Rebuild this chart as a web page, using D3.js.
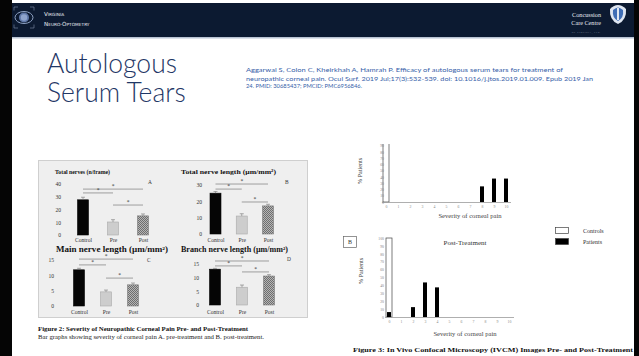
<!DOCTYPE html>
<html>
<head>
<meta charset="utf-8">
<script src="https://cdn.jsdelivr.net/npm/d3@7"></script>
<style>
  html, body { margin: 0; padding: 0; background: #fff; }
  svg { display: block; }
</style>
</head>
<body>
<script>
// ---- Data ----
const groups = ["Control", "Pre", "Post"];

const totalNerves = [27.6, 10.2, 15.0];
const totalNervesErr = [2.0, 1.8, 1.5];
const totalNerveLength = [25.0, 11.0, 17.2];
const totalNerveLengthErr = [1.0, 1.4, 1.0];
const mainNerveLength = [11.8, 4.6, 6.9];
const mainNerveLengthErr = [0.5, 0.6, 0.6];
const branchNerveLength = [13.1, 6.5, 10.6];
const branchNerveLengthErr = [0.3, 0.8, 0.5];

const panelTitles = [
  "Total nerves (n/frame)",
  "Total nerve length (\u00b5m/mm\u00b2)",
  "Main nerve length (\u00b5m/mm\u00b2)",
  "Branch nerve length (\u00b5m/mm\u00b2)"
];
const panelLetters = ["A", "B", "C", "D"];
const panelTicks = [[0, 10, 20, 30, 40], [0, 10, 20, 30], [0, 5, 10, 15], [0, 5, 10, 15]];

// significance brackets: [from group, to group, height in data units]
const sigA = [[0, 2, 36], [0, 1, 33], [1, 2, 23.5]];
const sigB = [[0, 2, 30.6], [0, 1, 27.5], [1, 2, 19.6]];
const sigC = [[0, 2, 15.3], [0, 1, 13.4], [1, 2, 9.1]];
const sigD = [[0, 2, 16.1], [0, 1, 14.3], [1, 2, 12.1]];

const severity = [0, 1, 2, 3, 4, 5, 6, 7, 8, 9, 10];
const preControls  = [100, 0, 0, 0, 0, 0, 0, 0, 0, 0, 0];
const prePatients  = [0, 0, 0, 0, 0, 0, 0, 0, 25, 37.5, 37.5];
const postControls = [100, 0, 0, 0, 0, 0, 0, 0, 0, 0, 0];
const postPatients = [6.25, 0, 12.5, 43.75, 37.5, 0, 0, 0, 0, 0, 0];
const preTicks  = [0, 10, 20, 30, 40, 50, 60, 70, 80, 90];
const postTicks = [0, 10, 20, 30, 40, 50, 60, 70, 80, 90, 100];

const legendLabels = ["Controls", "Patients"];

const citation = [
  "Aggarwal S, Colon C, Kheirkhah A, Hamrah P. Efficacy of autologous serum tears for treatment of",
  "neuropathic corneal pain. Ocul Surf. 2019 Jul;17(3):532-539. doi: 10.1016/j.jtos.2019.01.009. Epub 2019 Jan",
  "24. PMID: 30685437; PMCID: PMC6956846."
];

// ---- Canvas ----
const W = 639, H = 356;
const SERIF = "'Liberation Serif', 'Times New Roman', serif";
const SANS = "Lato, 'Open Sans', sans-serif";

const svg = d3.select("body").append("svg").attr("width", W).attr("height", H);
const defs = svg.append("defs");

// checkered fill for the post-treatment bars
const pat = defs.append("pattern").attr("id", "checker")
  .attr("patternUnits", "userSpaceOnUse").attr("width", 2).attr("height", 2);
pat.append("rect").attr("width", 2).attr("height", 2).attr("fill", "#b5b5b5");
pat.append("rect").attr("width", 1).attr("height", 1).attr("fill", "#6e6e6e");
pat.append("rect").attr("x", 1).attr("y", 1).attr("width", 1).attr("height", 1).attr("fill", "#6e6e6e");

svg.append("rect").attr("width", W).attr("height", H).attr("fill", "#fff");

// ---- Header band ----
svg.append("rect").attr("x", 0).attr("y", 3).attr("width", W).attr("height", 34).attr("fill", "#0c1a31");
svg.append("rect").attr("x", 12).attr("y", 37).attr("width", 622).attr("height", 1.5).attr("fill", "#b9c3d3");

// left logo: eye inside corner brackets
const logo = svg.append("g").attr("transform", "translate(24,17.5)");
logo.append("ellipse").attr("rx", 9).attr("ry", 6).attr("fill", "none").attr("stroke", "#8fa3c4").attr("stroke-width", 1);
logo.append("circle").attr("r", 5).attr("fill", "#5f78a8");
logo.append("circle").attr("r", 3.2).attr("fill", "#8ea4cc");
[[-1, -1], [1, -1], [-1, 1], [1, 1]].forEach(([sx, sy]) => {
  logo.append("path")
    .attr("d", `M${sx * 10},${sy * 7} L${sx * 10},${sy * 10.5} L${sx * 6},${sy * 10.5}`)
    .attr("fill", "none").attr("stroke", "#7f8fa8").attr("stroke-width", 0.6);
});

function smallCaps(x, y, parts) {
  const t = svg.append("text").attr("x", x).attr("y", y)
    .attr("font-family", "'DejaVu Sans', sans-serif").attr("fill", "#e8ecf3");
  parts.forEach(([s, big]) => t.append("tspan").attr("font-size", big ? 5.6 : 4.3).text(s));
  return t;
}
smallCaps(44, 16, [["V", true], ["IRGINIA", false]]);
smallCaps(44, 25.5, [["N", true], ["EURO-", false], ["O", true], ["PTOMETRY", false]]);

// right logo
svg.append("text").attr("x", 601).attr("y", 17).attr("text-anchor", "end")
  .attr("font-family", SERIF).attr("font-size", 6.2).attr("fill", "#e6e9ef").text("Concussion");
svg.append("text").attr("x", 601).attr("y", 25).attr("text-anchor", "end")
  .attr("font-family", SERIF).attr("font-size", 6.2).attr("fill", "#e6e9ef").text("Care Centre");
svg.append("text").attr("x", 601).attr("y", 32.5).attr("text-anchor", "end")
  .attr("font-family", SERIF).attr("font-size", 2.2).attr("fill", "#9aa4b5")
  .attr("letter-spacing", 0.6).text("OF VIRGINIA, LTD.");
const shield = svg.append("g").attr("transform", "translate(618,14)");
shield.append("path").attr("d", "M-8,-5 Q-9,6 0,10 Q9,6 8,-5 Q4,-9 0,-9 Q-4,-9 -8,-5 Z").attr("fill", "#dfe6f1");
shield.append("path").attr("d", "M-5,-4 Q-6,4 0,7 Q6,4 5,-4 Q2,-6.5 0,-6.5 Q-2,-6.5 -5,-4 Z").attr("fill", "#3f6db5");
shield.append("rect").attr("x", -1).attr("y", -6).attr("width", 2).attr("height", 12).attr("fill", "#dfe6f1");

// ---- Frame ----
svg.append("rect").attr("x", 0).attr("y", 0).attr("width", 12).attr("height", H).attr("fill", "#050505");
svg.append("rect").attr("x", 634).attr("y", 0).attr("width", 5).attr("height", H).attr("fill", "#050505");

// ---- Slide title and reference ----
[["Autologous", 73], ["Serum Tears", 102]].forEach(([s, yy]) => {
  svg.append("text").attr("x", 47).attr("y", yy)
    .attr("font-family", SANS).attr("font-weight", 300)
    .attr("font-size", 26.5).attr("fill", "#1f3766").text(s);
});

const citeWidths = [317, 347, 116];
const citeY = [72, 81, 87.5];
citation.forEach((line, i) => {
  svg.append("text").attr("x", 246).attr("y", citeY[i])
    .attr("font-family", SANS).attr("font-size", 6.1).attr("fill", "#3660a8")
    .attr("textLength", citeWidths[i]).attr("lengthAdjust", "spacingAndGlyphs")
    .text(line);
});

// ---- Figure 2: four bar panels ----
svg.append("rect").attr("x", 38.5).attr("y", 160.5).attr("width", 269).attr("height", 157)
  .attr("fill", "#efefef").attr("stroke", "#cfcfcf").attr("stroke-width", 1);

const barFills = ["#050505", "#cdcdcd", "url(#checker)"];
const barStrokes = ["#050505", "#a9a9a9", "#7a7a7a"];

const panels = [
  { values: totalNerves, errs: totalNervesErr, sig: sigA, ticks: panelTicks[0], max: 40,
    y0: 235, y1: 184, x0: 83, x1: 143, tickX: 61, titleX: 55, titleY: 174, titleW: 55, titleSize: 7,
    letterX: 148, letterY: 184, labelY: 242 },
  { values: totalNerveLength, errs: totalNerveLengthErr, sig: sigB, ticks: panelTicks[1], max: 30,
    y0: 234, y1: 185, x0: 215.5, x1: 268, tickX: 202, titleX: 181, titleY: 174, titleW: 95, titleSize: 7,
    letterX: 285, letterY: 184, labelY: 242 },
  { values: mainNerveLength, errs: mainNerveLengthErr, sig: sigC, ticks: panelTicks[2], max: 15,
    y0: 306, y1: 260, x0: 79, x1: 133, tickX: 54, titleX: 56, titleY: 252, titleW: 112, titleSize: 7.8,
    letterX: 147, letterY: 262, labelY: 314 },
  { values: branchNerveLength, errs: branchNerveLengthErr, sig: sigD, ticks: panelTicks[3], max: 15,
    y0: 305, y1: 264, x0: 215, x1: 269, tickX: 199, titleX: 181, titleY: 252, titleW: 107, titleSize: 7.8,
    letterX: 287, letterY: 261, labelY: 314 }
];

panels.forEach((p, pi) => {
  const g = svg.append("g");
  const x = d3.scalePoint().domain(groups).range([p.x0, p.x1]);
  const y = d3.scaleLinear().domain([0, p.max]).range([p.y0, p.y1]);
  const bw = 11;

  g.append("text").attr("x", p.titleX).attr("y", p.titleY)
    .attr("font-family", SERIF).attr("font-weight", "bold").attr("font-size", p.titleSize)
    .attr("fill", "#111").attr("textLength", p.titleW).attr("lengthAdjust", "spacingAndGlyphs")
    .text(panelTitles[pi]);

  const yAxis = d3.axisLeft(y).tickValues(p.ticks).tickSize(0).tickPadding(0);
  const ya = g.append("g").attr("transform", `translate(${p.tickX},0)`).call(yAxis);
  ya.select(".domain").remove();
  ya.selectAll("text").attr("font-family", SERIF).attr("font-size", 5.6).attr("fill", "#333").attr("dy", "0.32em");

  g.selectAll("rect.bar").data(p.values).join("rect").attr("class", "bar")
    .attr("x", (d, i) => x(groups[i]) - bw / 2).attr("width", bw)
    .attr("y", d => y(d)).attr("height", d => y(0) - y(d))
    .attr("fill", (d, i) => barFills[i]).attr("stroke", (d, i) => barStrokes[i]).attr("stroke-width", 0.6);

  // error bars
  p.values.forEach((v, i) => {
    const cx = x(groups[i]);
    const top = y(v + p.errs[i]);
    g.append("line").attr("x1", cx).attr("x2", cx).attr("y1", y(v)).attr("y2", top)
      .attr("stroke", "#777").attr("stroke-width", 0.6);
    g.append("line").attr("x1", cx - 2).attr("x2", cx + 2).attr("y1", top).attr("y2", top)
      .attr("stroke", "#777").attr("stroke-width", 0.6);
  });

  const xa = g.append("g").attr("transform", `translate(0,${p.labelY - 4})`)
    .call(d3.axisBottom(x).tickSize(0).tickPadding(0));
  xa.select(".domain").remove();
  xa.selectAll("text").attr("font-family", SERIF).attr("font-size", 5.6).attr("fill", "#333").attr("dy", "0.71em");

  // significance brackets
  p.sig.forEach(([a, b, h]) => {
    const xa0 = x(groups[a]), xb0 = x(groups[b]), yy = y(h);
    g.append("line").attr("x1", xa0).attr("x2", xb0).attr("y1", yy).attr("y2", yy)
      .attr("stroke", "#8a8a8a").attr("stroke-width", 0.8);
    g.append("text").attr("x", (xa0 + xb0) / 2).attr("y", yy - 0.8).attr("text-anchor", "middle")
      .attr("font-family", SERIF).attr("font-size", 5.5).attr("fill", "#333").text("*");
  });

  g.append("text").attr("x", p.letterX).attr("y", p.letterY)
    .attr("font-family", SERIF).attr("font-size", 5.4).attr("fill", "#333").text(panelLetters[pi]);
});

svg.append("text").attr("x", 38).attr("y", 331)
  .attr("font-family", SERIF).attr("font-weight", "bold").attr("font-size", 6).attr("fill", "#111")
  .attr("textLength", 210).attr("lengthAdjust", "spacingAndGlyphs")
  .text("Figure 2: Severity of Neuropathic Corneal Pain Pre- and Post-Treatment");
svg.append("text").attr("x", 38).attr("y", 338.5)
  .attr("font-family", SERIF).attr("font-size", 6).attr("fill", "#222")
  .attr("textLength", 226).attr("lengthAdjust", "spacingAndGlyphs")
  .text("Bar graphs showing severity of corneal pain A. pre-treatment and B. post-treatment.");

// ---- Figure 3: severity distributions ----
function distChart(cfg) {
  const g = svg.append("g");
  const x = d3.scalePoint().domain(severity).range([cfg.x0, cfg.x1]);
  const y = d3.scaleLinear().domain([0, 100]).range([cfg.y0, cfg.y100]);

  const clipId = "clip" + cfg.id;
  defs.append("clipPath").attr("id", clipId).append("rect")
    .attr("x", cfg.x0 - 20).attr("y", cfg.clipTop).attr("width", 160).attr("height", cfg.y0 - cfg.clipTop + 2);
  const plot = g.append("g").attr("clip-path", `url(#${clipId})`);

  plot.selectAll("rect.ctrl").data(cfg.controls).join("rect").attr("class", "ctrl")
    .attr("x", (d, i) => x(severity[i]) - 3).attr("width", 6)
    .attr("y", d => y(d)).attr("height", d => y(0) - y(d))
    .attr("fill", "#fff").attr("stroke", "#444").attr("stroke-width", 0.7)
    .attr("display", d => d > 0 ? null : "none");
  plot.selectAll("rect.pat").data(cfg.patients).join("rect").attr("class", "pat")
    .attr("x", (d, i) => x(severity[i]) - 2).attr("width", 4)
    .attr("y", d => y(d)).attr("height", d => y(0) - y(d))
    .attr("fill", "#000")
    .attr("display", d => d > 0 ? null : "none");

  g.append("line").attr("x1", cfg.x0 - 4).attr("x2", cfg.x1 + 5).attr("y1", cfg.y0 + 0.5).attr("y2", cfg.y0 + 0.5)
    .attr("stroke", "#9a9a9a").attr("stroke-width", 0.8);

  const ya = g.append("g").attr("transform", `translate(${cfg.tickX},0)`)
    .call(d3.axisLeft(y).tickValues(cfg.ticks).tickSize(0).tickPadding(0));
  ya.select(".domain").remove();
  ya.selectAll("text").attr("font-family", SERIF).attr("font-size", 3.8).attr("fill", "#888").attr("dy", "0.32em");

  const xa = g.append("g").attr("transform", `translate(0,${cfg.y0 + 3.5})`)
    .call(d3.axisBottom(x).tickSize(0).tickPadding(0));
  xa.select(".domain").remove();
  xa.selectAll("text").attr("font-family", SERIF).attr("font-size", 3.8).attr("fill", "#888").attr("dy", "0.71em");

  g.append("text").attr("x", cfg.xLabelX).attr("y", cfg.xLabelY).attr("text-anchor", "middle")
    .attr("font-family", SERIF).attr("font-size", 6.6).attr("fill", "#444").text("Severity of corneal pain");
  g.append("text").attr("transform", `translate(${cfg.yLabelX},${cfg.yLabelY}) rotate(-90)`)
    .attr("text-anchor", "middle").attr("font-family", SERIF).attr("font-size", 6.2).attr("fill", "#444")
    .text("% Patients");
}

distChart({ id: "pre", controls: preControls, patients: prePatients, ticks: preTicks,
  x0: 386, x1: 506, y0: 202, y100: 139.5, clipTop: 144, tickX: 384,
  xLabelX: 470, xLabelY: 218, yLabelX: 362, yLabelY: 171 });
distChart({ id: "post", controls: postControls, patients: postPatients, ticks: postTicks,
  x0: 389, x1: 509, y0: 317, y100: 238, clipTop: 236, tickX: 384,
  xLabelX: 465, xLabelY: 336, yLabelX: 363, yLabelY: 271 });

svg.append("text").attr("x", 465).attr("y", 245).attr("text-anchor", "middle")
  .attr("font-family", SERIF).attr("font-size", 7).attr("fill", "#333").text("Post-Treatment");
svg.append("rect").attr("x", 343.5).attr("y", 236.5).attr("width", 13).attr("height", 11)
  .attr("fill", "#fff").attr("stroke", "#666").attr("stroke-width", 0.7);
svg.append("text").attr("x", 350).attr("y", 244.3).attr("text-anchor", "middle")
  .attr("font-family", SERIF).attr("font-size", 6).attr("fill", "#333").text("B");

// legend
const legend = svg.append("g").attr("transform", "translate(555,227)");
legendLabels.forEach((lab, i) => {
  legend.append("rect").attr("x", 0.5).attr("y", i * 11 + 0.5).attr("width", 13).attr("height", 6)
    .attr("fill", i === 0 ? "#fff" : "#000").attr("stroke", "#444").attr("stroke-width", 0.7);
  legend.append("text").attr("x", 28).attr("y", i * 11 + 5.5)
    .attr("font-family", SERIF).attr("font-size", 6).attr("fill", "#333").text(lab);
});

svg.append("text").attr("x", 353).attr("y", 352)
  .attr("font-family", SERIF).attr("font-weight", "bold").attr("font-size", 6).attr("fill", "#111")
  .attr("textLength", 280).attr("lengthAdjust", "spacingAndGlyphs")
  .text("Figure 3: In Vivo Confocal Microscopy (IVCM) Images Pre- and Post-Treatment");
</script>
</body>
</html>
